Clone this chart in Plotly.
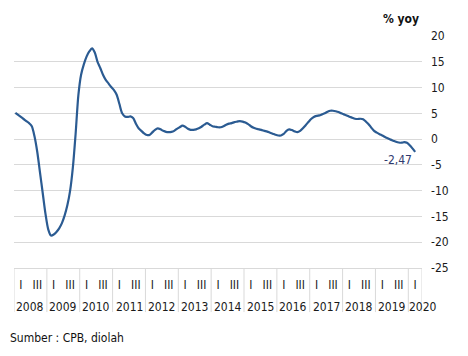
import plotly.graph_objects as go

# ---- data (monthly, Jan 2008 .. Mar 2020), % yoy ----
years = [2008, 2009, 2010, 2011, 2012, 2013, 2014, 2015, 2016, 2017, 2018, 2019, 2020]
values = [
    # 2008
    5.1, 4.7, 4.3, 3.9, 3.5, 3.1, 2.5, 0.5, -2.5, -6.5, -10.5, -14.5,
    # 2009
    -17.5, -18.7, -18.5, -18.0, -17.3, -16.3, -14.8, -12.8, -10.0, -5.5, 1.0, 8.5,
    # 2010
    12.5, 14.5, 16.0, 17.0, 17.6, 16.8, 15.0, 13.8, 12.5, 11.5, 10.8, 10.1,
    # 2011
    9.5, 8.6, 6.8, 5.0, 4.4, 4.3, 4.4, 4.1, 3.0, 2.1, 1.6, 1.1,
    # 2012
    0.8, 0.8, 1.3, 1.8, 2.1, 1.9, 1.6, 1.4, 1.35, 1.4, 1.6, 2.0,
    # 2013
    2.3, 2.6, 2.4, 2.0, 1.8, 1.8, 1.9, 2.1, 2.4, 2.8, 3.1, 2.8,
    # 2014
    2.5, 2.4, 2.3, 2.3, 2.5, 2.8, 3.0, 3.1, 3.3, 3.4, 3.5, 3.4,
    # 2015
    3.2, 2.9, 2.5, 2.2, 2.0, 1.9, 1.75, 1.6, 1.45, 1.25, 1.05, 0.85,
    # 2016
    0.7, 0.7, 1.0, 1.6, 1.9, 1.75, 1.5, 1.35, 1.6, 2.1, 2.7, 3.3,
    # 2017
    3.9, 4.3, 4.5, 4.6, 4.8, 5.0, 5.3, 5.5, 5.5, 5.4, 5.25, 5.0,
    # 2018
    4.8, 4.6, 4.35, 4.15, 3.95, 3.9, 3.95, 3.85, 3.4, 2.9, 2.2, 1.6,
    # 2019
    1.25, 0.95, 0.7, 0.4, 0.15, -0.1, -0.3, -0.5, -0.65, -0.7, -0.6, -0.7,
    # 2020
    -1.2, -1.8, -2.47,
]
quarter_labels = ["I", "III"]          # shown at March and September
quarter_months = [3, 9]
last_label = "-2,47"
y_tickvals = [20, 15, 10, 5, 0, -5, -10, -15, -20, -25]
y_ticktext = ["20", "15", "10", "5", "0", "-5", "-10", "-15", "-20", "-25"]
months_in_last_year_box = 5

# month index positions (centre of each month)
x = [i + 0.5 for i in range(len(values))]
x_end = (len(years) - 1) * 12 + months_in_last_year_box

FONT = "DejaVu Sans Condensed, Liberation Sans Narrow, Arial Narrow, sans-serif"
GRID = "#d9d9d9"
LINE = "#2b5b92"
TXT = "#1a1a1a"
FS = 12

fig = go.Figure()
fig.add_trace(go.Scatter(
    x=x, y=values, mode="lines",
    line=dict(color=LINE, width=2.2, shape="spline", smoothing=0.8),
    hoverinfo="skip", showlegend=False,
))

# quarter tick labels
tickvals, ticktext = [], []
for k, yr in enumerate(years):
    for lab, mo in zip(quarter_labels, quarter_months):
        pos = k * 12 + mo - 0.5
        if pos < x_end:
            tickvals.append(pos)
            ticktext.append(lab)

shapes = []
for k in range(len(years)):
    shapes.append(dict(type="line", xref="x", yref="paper",
                       x0=k * 12, x1=k * 12, y0=0, y1=-0.19,
                       line=dict(color=GRID, width=1)))
shapes.append(dict(type="line", xref="x", yref="paper",
                   x0=x_end, x1=x_end, y0=0, y1=-0.19,
                   line=dict(color=GRID, width=1)))

annotations = []
for k, yr in enumerate(years):
    if k < len(years) - 1:
        annotations.append(dict(x=k * 12 + 6, xref="x", y=-0.17, yref="paper",
                                text=str(yr), showarrow=False, xanchor="center",
                                yanchor="middle", font=dict(family=FONT, size=FS, color=TXT)))
    else:
        annotations.append(dict(x=k * 12, xref="x", y=-0.17, yref="paper",
                                text=str(yr), showarrow=False, xanchor="left", xshift=-1,
                                yanchor="middle", font=dict(family=FONT, size=FS, color=TXT)))

annotations.append(dict(x=x[-1], y=values[-1], xref="x", yref="y", text=last_label,
                        showarrow=False, xanchor="center", yanchor="middle",
                        xshift=-17, yshift=-8,
                        font=dict(family=FONT, size=FS, color="#2f3a6e")))
annotations.append(dict(x=1, xref="paper", y=1.073, yref="paper", text="<b>% yoy</b>",
                        showarrow=False, xanchor="right", yanchor="middle", xshift=-1,
                        font=dict(family=FONT, size=FS, color="#111")))
annotations.append(dict(x=0, xref="paper", y=-0.30, yref="paper", text="Sumber : CPB, diolah",
                        showarrow=False, xanchor="left", yanchor="middle", xshift=-6,
                        font=dict(family=FONT, size=FS, color="#111")))

# page body has an 8px default margin: compensate in figure size/margins
fig.update_layout(
    width=460, height=348,
    margin=dict(l=6, r=46, t=28, b=88),
    paper_bgcolor="white", plot_bgcolor="white",
    font=dict(family=FONT, size=FS, color=TXT),
    xaxis=dict(range=[0, x_end], tickmode="array", tickvals=tickvals, ticktext=ticktext,
               showgrid=False, zeroline=False, showline=True, linecolor=GRID, linewidth=1,
               ticks="", tickangle=0, ticklabelstandoff=6,
               tickfont=dict(family=FONT, size=FS, color=TXT),
               fixedrange=True),
    yaxis=dict(side="right", range=[-25, 20], tickmode="array",
               tickvals=y_tickvals, ticktext=y_ticktext,
               showgrid=True, gridcolor=GRID, gridwidth=1, zeroline=False,
               showline=False, ticks="", ticklabelstandoff=8,
               tickfont=dict(family=FONT, size=FS, color=TXT), fixedrange=True),
    shapes=shapes, annotations=annotations,
)

fig.write_html("out.html")
